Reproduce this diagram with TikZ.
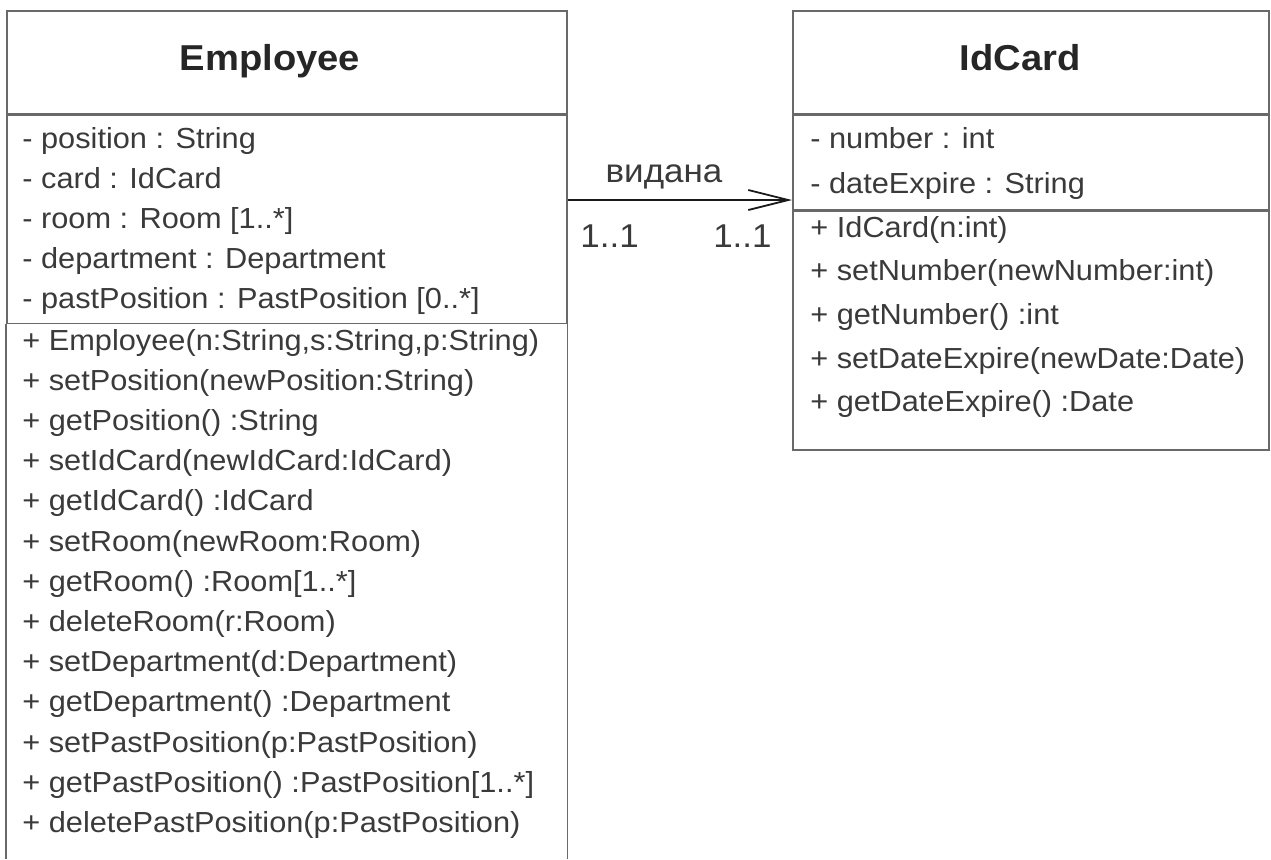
\documentclass[tikz,border=0pt]{standalone}
\usepackage{fontspec}
\setmainfont{Liberation Sans}[FakeStretch=1.06]
\usepackage{xcolor}
\usepackage{tikz}
\usetikzlibrary{arrows.meta}
\definecolor{cText}{RGB}{58,58,58}
\definecolor{cLine}{RGB}{105,105,105}
\definecolor{cLink}{RGB}{25,25,25}
\tikzset{
  box/.style={draw=cLine,line width=0.75pt,anchor=north west,inner sep=0pt},
  member/.style={anchor=west,text=cText,inner sep=0pt,text height=0.72em,text depth=0.22em,yshift=-2.5pt},
  title/.style={font=\fontsize{18}{20}\selectfont\bfseries,text=black!85,text height=0.72em,text depth=0.22em,yshift=-2.5pt},
  label/.style={text=cText,inner sep=0pt,font=\fontsize{16.5}{18}\selectfont,text height=0.72em,text depth=0.22em,yshift=-2.5pt}
}

\begin{document}
\begin{tikzpicture}[x=0.5pt,y=-0.5pt,font=\fontsize{14.5}{16}\selectfont]
\useasboundingbox (0,0) rectangle (1271,859);
% Employee
\node[box,minimum width=280pt,minimum height=51.5pt] (empHead) at (6,10) {};
\node[box,minimum width=280pt,minimum height=104pt] (empAttr) at (empHead.south west) {};
\draw[cLine,line width=0.75pt] (empAttr.south west) -- (empAttr.south west |- 0,859);
\draw[cLine,line width=0.75pt] (empAttr.south east) -- (empAttr.south east |- 0,859);
\node[title] (empName) at (270,60) {Employee};
\foreach \t [count=\i from 0] in {- position : String,- card : IdCard,- room : Room [1..*],
  - department : Department,- pastPosition : PastPosition [0..*]}
  \node[member] (empA\i) at (22,{138+40.2*\i}) {\t};
\foreach \t [count=\i from 0] in {{+ Employee(n:String,s:String,p:String)},+ setPosition(newPosition:String),
  + getPosition() :String,+ setIdCard(newIdCard:IdCard),+ getIdCard() :IdCard,+ setRoom(newRoom:Room),
  + getRoom() :Room[1..*],+ deleteRoom(r:Room),+ setDepartment(d:Department),+ getDepartment() :Department,
  + setPastPosition(p:PastPosition),+ getPastPosition() :PastPosition[1..*],+ deletePastPosition(p:PastPosition)}
  \node[member] (empO\i) at (22,{340+40.2*\i}) {\t};
% IdCard
\node[box,minimum width=238pt,minimum height=51.5pt] (idcHead) at (792,10) {};
\node[box,minimum width=238pt,minimum height=47pt] (idcAttr) at (idcHead.south west) {};
\node[box,minimum width=238pt,minimum height=119.5pt] (idcOps) at (idcAttr.south west) {};
\node[title] (idcName) at (1020,60) {IdCard};
\foreach \t [count=\i from 0] in {- number : int,- dateExpire : String}
  \node[member] (idcA\i) at (810,{138+45*\i}) {\t};
\foreach \t [count=\i from 0] in {+ IdCard(n:int),+ setNumber(newNumber:int),+ getNumber() :int,
  + setDateExpire(newDate:Date),+ getDateExpire() :Date}
  \node[member] (idcO\i) at (810,{227+43.7*\i}) {\t};
% association
\coordinate (linkY) at (0,200);
\draw[cLink,line width=0.9pt,-{Straight Barb[length=20pt,width=10pt,line width=0.9pt]}]
  (empAttr.east |- linkY) -- (idcAttr.west |- linkY);
\node[label] (assocName) at (664,172) {видана};
\node[label,anchor=west] (multEmp) at (580,237) {1..1};
\node[label,anchor=east] (multIdc) at (772,237) {1..1};
\end{tikzpicture}
\end{document}
